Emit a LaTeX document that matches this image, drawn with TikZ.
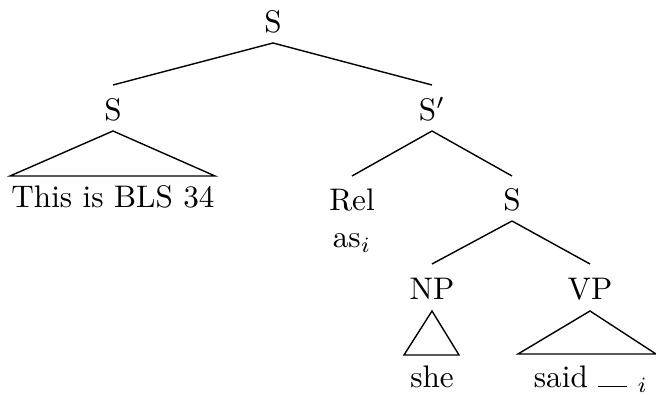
\documentclass[tikz,border=0pt]{standalone}
\usetikzlibrary{calc}
\begin{document}
\begin{tikzpicture}[x=0.3205pt,y=-0.3205pt,
  lbl/.style={inner sep=0pt, anchor=base},
  branch/.style={line width=0.45pt},
  roof/.style={line width=0.45pt}]
\useasboundingbox (0,0) rectangle (656,395);
% category labels
\node[lbl] (top) at (273,33) {S};
\node[lbl] (sl)  at (113,121) {S};
\node[lbl] (sp)  at (432,121) {S$'$};
\node[lbl] (rel) at (352,211) {Rel};
\node[lbl] (as)  at (352,248) {as$_i$};
\node[lbl] (sr)  at (512,211) {S};
\node[lbl] (np)  at (432,300) {NP};
\node[lbl] (vp)  at (590,300) {VP};
% leaves
\node[lbl] (bls)  at (113,208) {This is BLS 34};
\node[lbl] (she)  at (432,388) {she};
\node[lbl] (said) at (591,388) {said \rule[0.2pt]{9.3pt}{0.45pt} $_i$};
% branches
\draw[branch] ($(top.base)+(0,10)$) -- ($(sl.base)+(0,-36)$);
\draw[branch] ($(top.base)+(0,10)$) -- ($(sp.base)+(0,-36)$);
\draw[branch] ($(sp.base)+(0,10)$) -- ($(rel.base)+(0,-35)$);
\draw[branch] ($(sp.base)+(0,10)$) -- ($(sr.base)+(0,-35)$);
\draw[branch] ($(sr.base)+(0,10)$) -- ($(np.base)+(0,-36)$);
\draw[branch] ($(sr.base)+(0,10)$) -- ($(vp.base)+(0,-36)$);
% roofs
\draw[roof] ($(sl.base)+(0,10)$) -- ($(bls.base)+(-103,-32)$) -- ($(bls.base)+(102,-32)$) -- cycle;
\draw[roof] ($(np.base)+(0,11)$) -- ($(she.base)+(-28,-33)$) -- ($(she.base)+(27,-33)$) -- cycle;
\draw[roof] ($(vp.base)+(0,11)$) -- ($(said.base)+(-73,-34)$) -- ($(said.base)+(65,-34)$) -- cycle;
\end{tikzpicture}
\end{document}
